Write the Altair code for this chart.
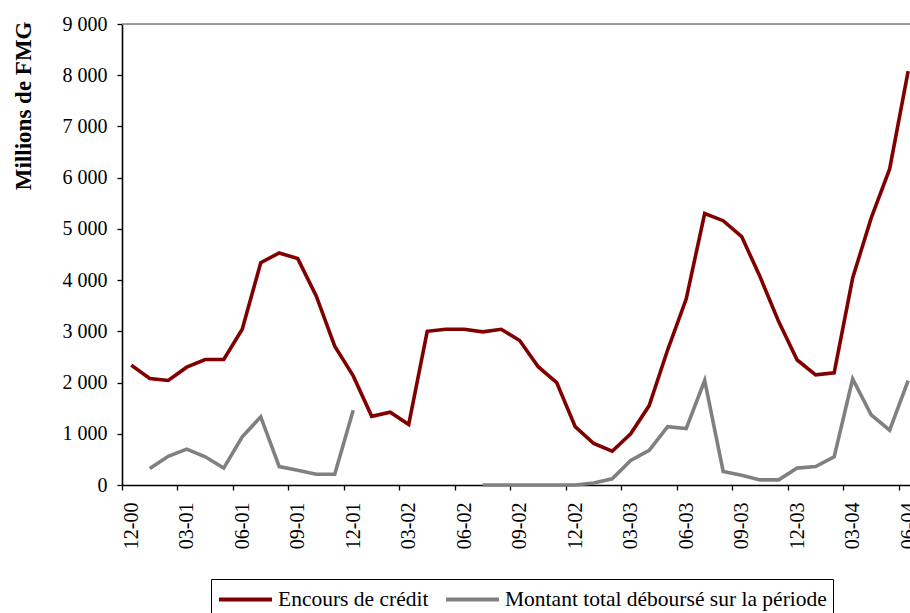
import json
import altair as alt
import pandas as pd

# ---- data ----
months = ["12-00", "01-01", "02-01", "03-01", "04-01", "05-01", "06-01", "07-01", "08-01", "09-01",
          "10-01", "11-01", "12-01", "01-02", "02-02", "03-02", "04-02", "05-02", "06-02", "07-02",
          "08-02", "09-02", "10-02", "11-02", "12-02", "01-03", "02-03", "03-03", "04-03", "05-03",
          "06-03", "07-03", "08-03", "09-03", "10-03", "11-03", "12-03", "01-04", "02-04", "03-04",
          "04-04", "05-04", "06-04"]

encours = [2340, 2080, 2040, 2300, 2450, 2450, 3040, 4340, 4530, 4420, 3690, 2710, 2130,
           1340, 1420, 1180, 3000, 3040, 3040, 2990, 3040, 2820, 2310, 2000, 1140,
           810, 660, 1000, 1550, 2640, 3630, 5300, 5160, 4850, 4060, 3190, 2440,
           2150, 2190, 4040, 5210, 6170, 8080]

debourse = [None, 320, 560, 700, 550, 330, 940, 1330, 360, 290, 210, 210, 1460,
            None, None, None, None, None, None, 0, 0, 0, 0, 0, 0,
            40, 120, 480, 675, 1140, 1100, 2040, 265, 190, 100, 100, 330,
            360, 550, 2070, 1370, 1070, 2040]

series_names = ["Encours de crédit", "Montant total déboursé sur la période"]
series_colors = ["#800000", "#808080"]
y_max = 9000
y_step = 1000
tick_every = 3

# ---- long table, broken into segments at missing values ----
rows = []
for name, vals in zip(series_names, [encours, debourse]):
    seg = 0
    for i, v in enumerate(vals):
        if v is None:
            seg += 1
            continue
        rows.append({"idx": i, "value": v, "series": name, "seg": f"{name}-{seg}"})
df = pd.DataFrame(rows)

# ---- layout ----
PAD_L, PAD_T, PAD_R, PAD_B = 122, 24, 0, 128
W = 910 - PAD_L - PAD_R
H = 613 - PAD_T - PAD_B
x_min, x_max = -0.5, 42.1
half = 0.5 * W / (x_max - x_min)

FONT = "Liberation Serif"
label_vals = list(range(0, len(months), tick_every))
label_expr = json.dumps(months) + "[datum.value]"

# legend line symbol: long horizontal stroke drawn from a small nominal symbol
sym_d = 25.0            # nominal symbol diameter (row height)
sym_len = 53.0          # visible stroke length
k = sym_len / (sym_d / 2) - 1
sym_path = f"M-1,0H{k:.3f}"

x = alt.X(
    "idx:Q",
    scale=alt.Scale(domain=[x_min, x_max], nice=False, zero=False),
    axis=alt.Axis(
        values=label_vals, labelExpr=label_expr, title=None, grid=False,
        labelAngle=270, labelAlign="right", labelBaseline="middle",
        labelFont=FONT, labelFontSize=20, labelColor="black", labelPadding=12,
        tickOffset=-half, labelOffset=half, tickSize=5, tickColor="black", tickWidth=1.3,
        domainColor="black", domainWidth=1.6, labelFlush=False, labelOverlap=False,
        labelBound=False,
    ),
)

y = alt.Y(
    "value:Q",
    scale=alt.Scale(domain=[0, y_max], nice=False),
    axis=alt.Axis(
        values=list(range(0, y_max + 1, y_step)),
        labelExpr="replace(format(datum.value, ','), ',', ' ')",
        title="Millions de FMG", titleFont=FONT, titleFontSize=23, titleFontWeight="bold",
        titleColor="black", titleAngle=270, titleAlign="right", titleBaseline="middle",
        titleX=-99, titleY=-3,
        grid=False, labelFont=FONT, labelFontSize=20, labelColor="black", labelPadding=10,
        tickSize=5, tickColor="black", tickWidth=1.3, domainColor="black", domainWidth=1.6,
    ),
)

lines = alt.Chart(df).mark_line(strokeWidth=3.6, strokeJoin="miter").encode(
    x=x,
    y=y,
    color=alt.Color(
        "series:N",
        scale=alt.Scale(domain=series_names, range=series_colors),
        legend=alt.Legend(
            title=None, orient="none", legendX=89, legendY=555, direction="horizontal",
            symbolType=sym_path, symbolSize=sym_d * sym_d, symbolStrokeWidth=4,
            labelFont=FONT, labelFontSize=21.5, labelColor="black", labelLimit=600,
            labelOffset=sym_len - sym_d + 4, columnPadding=9, padding=6,
            strokeColor="black", fillColor="white",
        ),
    ),
    detail="seg:N",
    order="idx:Q",
)

top_rule = alt.Chart(pd.DataFrame({"v": [y_max]})).mark_rule(
    color="#808080", strokeWidth=1.5
).encode(y=alt.Y("v:Q"))

chart = alt.layer(top_rule, lines).properties(
    width=W, height=H,
    autosize=alt.AutoSizeParams(type="none"),
    padding={"left": PAD_L, "top": PAD_T, "right": PAD_R, "bottom": PAD_B},
).configure_view(stroke=None).configure(background="white")

chart.save("out.html", embed_options={"renderer": "svg", "actions": False})
